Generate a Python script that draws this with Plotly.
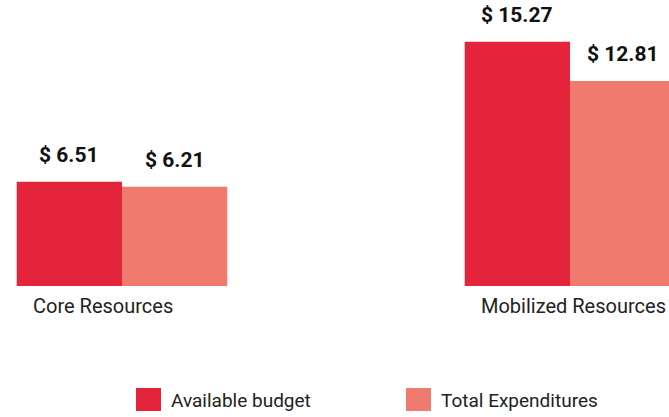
import plotly.graph_objects as go

categories = ["Core Resources", "Mobilized Resources"]
series_names = ["Available budget", "Total Expenditures"]
available_budget = [6.51, 15.27]
total_expenditures = [6.21, 12.81]

colors = ["#E3243B", "#EF7B6E"]
FONT = "Roboto, sans-serif"

xs = list(range(len(categories)))
bar_w = 0.235
fig = go.Figure()
for i, (name, vals) in enumerate(zip(series_names, [available_budget, total_expenditures])):
    fig.add_trace(go.Bar(x=xs, y=vals, name=name, marker_color=colors[i],
                         marker_line_width=0, showlegend=False, hoverinfo="skip"))

annotations = []
for i, vals in enumerate([available_budget, total_expenditures]):
    off = (-0.5 + i) * bar_w
    for x, v in zip(xs, vals):
        annotations.append(dict(x=x + off, y=v, xref="x", yref="y", text=f"<b>$ {v:.2f}</b>",
                                showarrow=False, yanchor="bottom", yshift=13,
                                font=dict(family=FONT, size=21, color="#111")))
label_shift = [-19, 3]
for x, c, s in zip(xs, categories, label_shift):
    annotations.append(dict(x=x, y=0, xref="x", yref="y", text=c, showarrow=False,
                            yanchor="middle", yshift=-20, xshift=s,
                            font=dict(family=FONT, size=20, color="#222")))

# custom legend
shapes = []
leg_x = [136, 406]
for i, name in enumerate(series_names):
    x0 = leg_x[i] / 669
    shapes.append(dict(type="rect", xref="paper", yref="paper",
                       x0=x0, x1=x0 + 25 / 669, y0=(286 - 411) / 286, y1=(286 - 388) / 286,
                       fillcolor=colors[i], line_width=0))
    annotations.append(dict(x=x0 + 33 / 669, y=(286 - 400) / 286, xref="paper", yref="paper",
                            text=name, showarrow=False, xanchor="left", yanchor="middle",
                            font=dict(family=FONT, size=19, color="#222")))

fig.update_layout(
    width=669, height=417,
    margin=dict(l=0, r=0, t=0, b=131),
    plot_bgcolor="white", paper_bgcolor="white",
    barmode="group", bargap=0.53, bargroupgap=0,
    xaxis=dict(range=[-122 / 448, 547 / 448], showticklabels=False, showgrid=False,
               zeroline=False, showline=False, ticks=""),
    yaxis=dict(range=[0, 286 / 16], visible=False),
    annotations=annotations, shapes=shapes,
)
fig.write_html("out.html", config={"displayModeBar": False},
               post_script="document.body.style.margin='0';document.body.style.overflow='hidden';")
